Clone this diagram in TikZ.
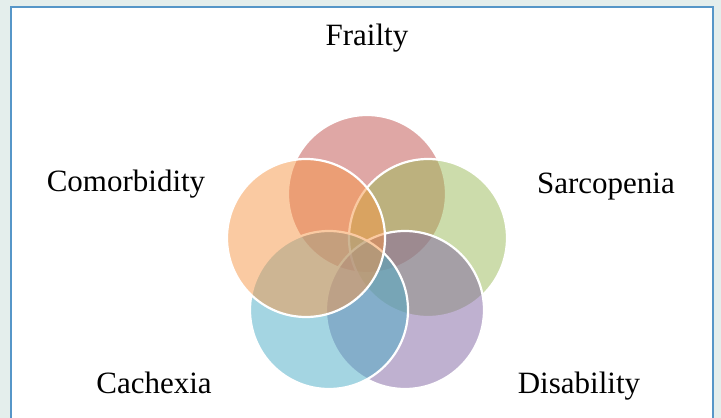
\documentclass[tikz,border=0pt]{standalone}
\usepackage{fontspec}
\setmainfont{Liberation Serif}
\usepackage{tikz}

\definecolor{frailtyred}{HTML}{C0504D}
\definecolor{sarcogreen}{HTML}{9BBB59}
\definecolor{disabpurple}{HTML}{8064A2}
\definecolor{cachexblue}{HTML}{4BACC6}
\definecolor{comorborange}{HTML}{F79646}
\definecolor{framebg}{RGB}{228,238,236}
\definecolor{frameblue}{RGB}{86,150,200}

\begin{document}
\begin{tikzpicture}[
    x=1pt, y=-1pt,
    % Styles
    venn/.style={circle, draw=white, line width=2.2pt, minimum size=158pt, inner sep=0pt, fill opacity=0.5},
    label/.style={font=\fontsize{31}{36}\selectfont, anchor=base, inner sep=0pt},
]

% Frame
\useasboundingbox (0,0) rectangle (721,418);
\fill[framebg] (0,0) rectangle (721,418);
\draw[frameblue, line width=1.5pt, fill=white] (11,7) rectangle (713,425);

% Circles (pentagon around 367,258)
\node[venn, fill=frailtyred] (frailty) at (367,194) {};
\node[venn, fill=sarcogreen] (sarcopenia) at (428,238) {};
\node[venn, fill=disabpurple] (disability) at (405,310) {};
\node[venn, fill=cachexblue] (cachexia) at (329,310) {};
\node[venn, fill=comorborange] (comorbidity) at (306,238) {};

% Labels
\node[label] (frailty-text) at (367,45) {Frailty};
\node[label] (sarcopenia-text) at (606,193) {Sarcopenia};
\node[label] (comorbidity-text) at (126,191) {Comorbidity};
\node[label] (cachexia-text) at (154,393) {Cachexia};
\node[label] (disability-text) at (579,393) {Disability};

\end{tikzpicture}
\end{document}
